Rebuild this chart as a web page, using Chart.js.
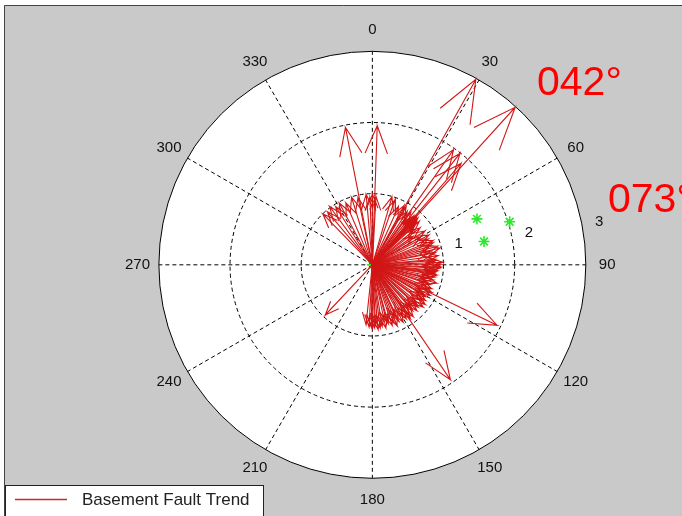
<!DOCTYPE html>
<html>
<head>
<meta charset="utf-8">
<script src="https://cdn.jsdelivr.net/npm/chart.js@4.4.1/dist/chart.umd.min.js"></script>
<style>
  html, body { margin: 0; padding: 0; background: #fff; }
  #wrap { position: relative; width: 682px; height: 516px; overflow: hidden; }
</style>
</head>
<body>
<div id="wrap"><canvas id="compass" width="682" height="516"></canvas></div>
<script>
// fault trends: bearing in degrees (clockwise from north) and magnitude
const trendBearings = [
  29, 42,
  349, 2, 35, 38, 41, 116, 146,
  223,
  316, 320, 324, 328, 332, 337, 343, 348, 355, 358, 0, 3, 16, 19, 24, 28, 30, 33, 36,
  40, 41, 42, 43, 44, 45, 47, 52, 57, 62, 65, 68, 70, 74, 76, 79, 82, 85, 88, 90,
  93, 96, 99, 101, 104, 106, 109, 112, 115, 118, 121, 124, 127, 130, 133, 136, 139,
  142, 145, 148, 152, 155, 158, 162, 165, 168, 171, 175, 178, 180, 183, 186,
  41, 42, 43, 44, 46, 50, 55, 60, 72, 78, 86, 92, 95, 97, 98, 103, 108, 114,
  120, 126, 132, 138, 144, 150, 156, 160, 166, 173, 177, 181
];
const trendLengths = [
  3.0, 3.0,
  1.98, 1.97, 1.99, 2.0, 1.9, 1.95, 1.96,
  0.97,
  1.0, 0.98, 1.02, 0.97, 0.99, 0.95, 1.0, 0.97, 1.0, 0.96, 1.0, 0.97, 1.0, 0.98, 0.9, 0.95, 0.95, 0.9, 0.92,
  0.9, 0.88, 0.9, 0.88, 0.92, 0.86, 0.9, 0.85, 0.88, 0.9, 0.87, 0.92, 0.91, 0.95, 0.98, 0.9, 0.93, 0.88, 0.99, 0.96,
  0.94, 0.9, 0.92, 0.9, 0.88, 0.94, 0.86, 0.9, 0.92, 0.92, 0.88, 0.9, 0.93, 0.93, 0.88, 0.9, 0.86,
  0.93, 0.93, 0.9, 0.92, 0.88, 0.93, 0.9, 0.86, 0.91, 0.88, 0.92, 0.89, 0.9, 0.88, 0.85,
  0.9, 0.92, 0.9, 0.89, 0.8, 0.75, 0.7, 0.78, 0.85, 0.8, 0.9, 0.97, 0.92, 0.88, 0.87, 0.82, 0.8, 0.85,
  0.8, 0.86, 0.82, 0.8, 0.88, 0.84, 0.8, 0.87, 0.83, 0.9, 0.85, 0.88
];
const ringTicks = [1, 2, 3];
const angleTicks = [0, 30, 60, 90, 120, 150, 180, 210, 240, 270, 300, 330];
const starX = [0, 1.47, 1.93, 1.57];
const starY = [0, 0.65, 0.61, 0.33];
const noteTexts = ["042°", "073°"];
const seriesLabel = "Basement Fault Trend";

const RED = "rgb(210,22,22)";
const FONT = "'Liberation Sans', Arial, sans-serif";

function arrowPoints(bearing, mag) {
  const a = bearing * Math.PI / 180;
  const ux = Math.sin(a), uy = Math.cos(a);
  const px = Math.cos(a), py = -Math.sin(a);
  const tip = { x: mag * ux, y: mag * uy };
  const h1 = { x: 0.8 * mag * ux + 0.08 * mag * px, y: 0.8 * mag * uy + 0.08 * mag * py };
  const h2 = { x: 0.8 * mag * ux - 0.08 * mag * px, y: 0.8 * mag * uy - 0.08 * mag * py };
  return [{ x: 0, y: 0 }, tip, h1, tip, h2];
}

const datasets = trendBearings.map((b, i) => ({
  label: i === 0 ? seriesLabel : "",
  data: arrowPoints(b, trendLengths[i]),
  showLine: true,
  borderColor: RED,
  borderWidth: 1.1,
  pointRadius: 0,
  tension: 0
}));

datasets.push({
  label: "stars",
  data: starX.map((x, i) => ({ x: x, y: starY[i] })),
  showLine: false,
  pointStyle: "star",
  pointRadius: 5.5,
  borderColor: "#2ee82e",
  backgroundColor: "#2ee82e",
  borderWidth: 1.6
});

const compassGrid = {
  id: "compassGrid",
  beforeDatasetsDraw(chart) {
    const { ctx, scales: { x, y } } = chart;
    const cx = x.getPixelForValue(0), cy = y.getPixelForValue(0);
    const unit = x.getPixelForValue(1) - cx;
    const rMax = ringTicks[ringTicks.length - 1] * unit;
    ctx.save();
    // figure background
    ctx.fillStyle = "#fff";
    ctx.fillRect(0, 0, chart.width, chart.height);
    ctx.fillStyle = "#c9c9c9";
    ctx.fillRect(4, 5, chart.width, chart.height);
    ctx.strokeStyle = "#444";
    ctx.lineWidth = 1;
    ctx.beginPath();
    ctx.moveTo(4.5, chart.height); ctx.lineTo(4.5, 5.5); ctx.lineTo(chart.width, 5.5);
    ctx.stroke();

    // white disc
    ctx.fillStyle = "#fff";
    ctx.beginPath();
    ctx.arc(cx, cy, rMax, 0, Math.PI * 2);
    ctx.fill();

    // dashed spokes
    ctx.strokeStyle = "#000";
    ctx.setLineDash([4, 3]);
    angleTicks.forEach(t => {
      const a = t * Math.PI / 180;
      ctx.beginPath();
      ctx.moveTo(cx, cy);
      ctx.lineTo(cx + rMax * Math.sin(a), cy - rMax * Math.cos(a));
      ctx.stroke();
    });
    // dashed rings
    ringTicks.slice(0, -1).forEach(r => {
      ctx.beginPath();
      ctx.arc(cx, cy, r * unit, 0, Math.PI * 2);
      ctx.stroke();
    });
    ctx.setLineDash([]);
    ctx.beginPath();
    ctx.arc(cx, cy, rMax, 0, Math.PI * 2);
    ctx.stroke();

    // angle labels
    ctx.fillStyle = "#111";
    ctx.font = "15px " + FONT;
    ctx.textAlign = "center";
    ctx.textBaseline = "middle";
    const rLab = rMax * 1.1;
    angleTicks.forEach(t => {
      const a = t * Math.PI / 180;
      ctx.fillText(String(t), cx + rLab * Math.sin(a), cy - rLab * Math.cos(a));
    });
    // ring labels
    ctx.textAlign = "left";
    ctx.textBaseline = "bottom";
    const a82 = 81 * Math.PI / 180;
    ringTicks.forEach(r => {
      const rr = (r + 0.05) * unit;
      ctx.fillText("  " + r, cx + rr * Math.sin(a82), cy - rr * Math.cos(a82) - 2);
    });
    ctx.restore();
  },
  afterDraw(chart) {
    const { ctx } = chart;
    ctx.save();
    // red notes
    ctx.fillStyle = "#ff0000";
    ctx.font = "41px " + FONT;
    ctx.textAlign = "left";
    ctx.textBaseline = "alphabetic";
    ctx.fillText(noteTexts[0], 537, 95);
    ctx.fillText(noteTexts[1], 608, 212);
    // legend box
    ctx.fillStyle = "#fff";
    ctx.fillRect(5, 485, 258, 40);
    ctx.strokeStyle = "#222";
    ctx.lineWidth = 1;
    ctx.strokeRect(5.5, 485.5, 258, 40);
    ctx.strokeStyle = "rgb(200,40,40)";
    ctx.lineWidth = 1.3;
    ctx.beginPath();
    ctx.moveTo(15, 499.5); ctx.lineTo(67, 499.5);
    ctx.stroke();
    ctx.fillStyle = "#222";
    ctx.font = "17px " + FONT;
    ctx.textBaseline = "alphabetic";
    ctx.fillText(seriesLabel, 82, 505);
    ctx.restore();
  }
};

new Chart(document.getElementById("compass"), {
  type: "scatter",
  data: { datasets },
  options: {
    responsive: false,
    animation: false,
    devicePixelRatio: 1,
    layout: { padding: 0 },
    plugins: { legend: { display: false }, tooltip: { enabled: false } },
    scales: {
      x: { type: "linear", display: false, min: -5.133, max: 4.252 },
      y: { type: "linear", display: false, min: -3.454, max: 3.647 }
    }
  },
  plugins: [compassGrid]
});
</script>
</body>
</html>
